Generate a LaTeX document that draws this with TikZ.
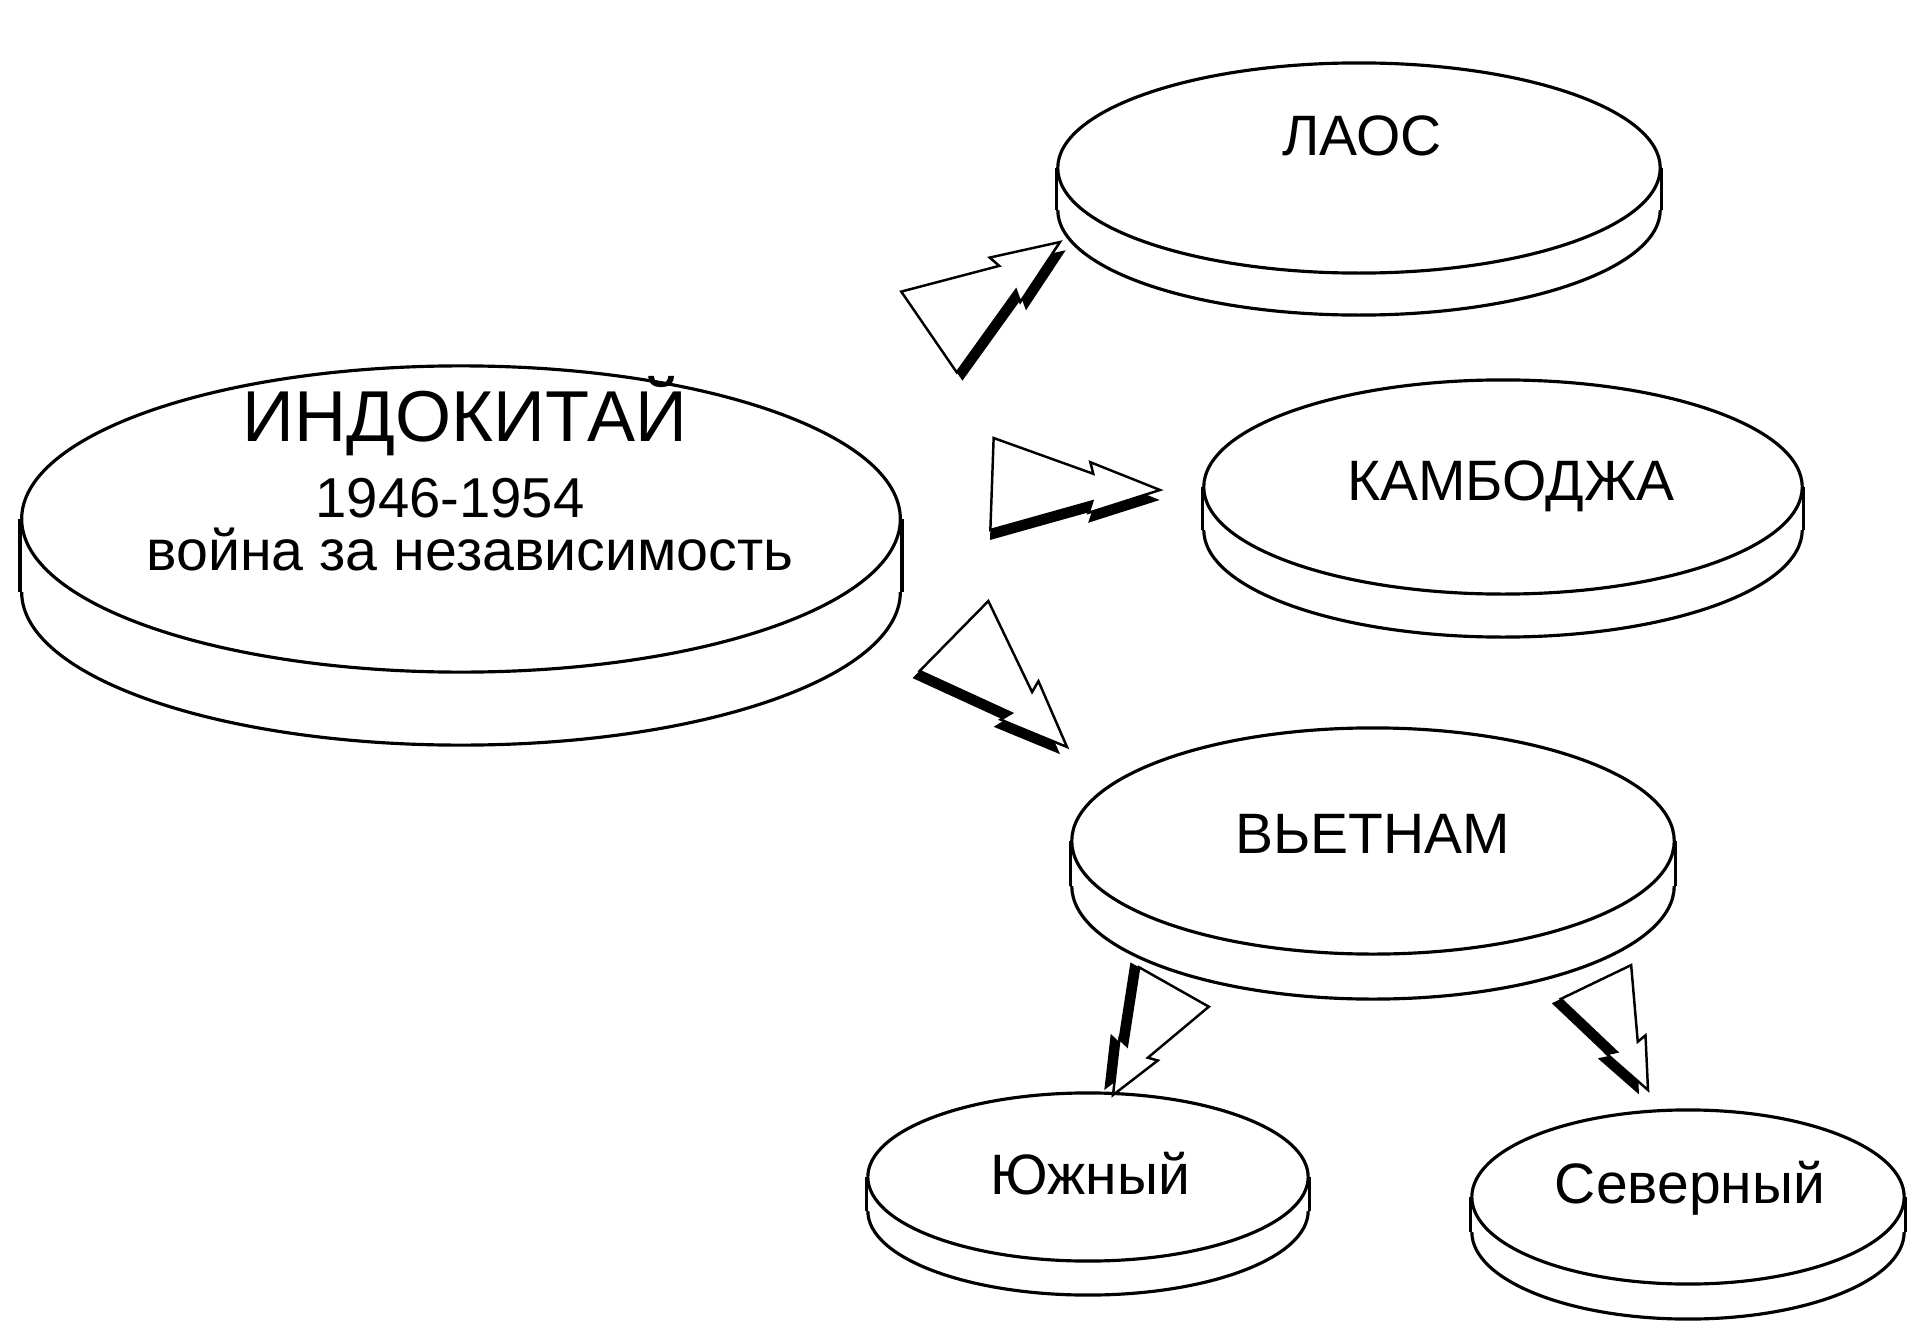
\documentclass[tikz,border=0pt]{standalone}
\usepackage{fontspec}
\setmainfont{Liberation Sans}
\usepackage{tikz}
\usetikzlibrary{calc, shapes.geometric}

\newcommand{\shd}{0.1cm}
% disk: name, x, y, rx, ry, depth
\newcommand{\disk}[6]{%
  \node[face, minimum width=#4*0.02cm, minimum height=#5*0.02cm] (#1-base) at (#2,#3+#6) {};
  \fill[white] (#2-#4,#3) rectangle (#2+#4,#3+#6);
  \node[face, minimum width=#4*0.02cm, minimum height=#5*0.02cm] (#1) at (#2,#3) {};
  \draw[rim] (#1.west) -- (#1-base.west) (#1.east) -- (#1-base.east);
}
% hollow arrow with shadow: tail, tip, half width
\newcommand{\blockarrow}[3]{%
  \coordinate (n) at ($(#1)!0.6!(#2)$);
  \coordinate (b) at ($(#1)!0.58!(#2)$);
  \fill[black]
    ($(#1)!#3-\shd!90:(#2)$) -- ($(n)!0.3*#3-\shd!90:(#2)$) -- ($(b)!0.55*#3-\shd!90:(#2)$)
    -- ($(#2)!\shd!90:(#1)$) -- ($(b)!0.55*#3+\shd!-90:(#2)$) -- ($(n)!0.3*#3+\shd!-90:(#2)$)
    -- ($(#1)!#3+\shd!-90:(#2)$) -- cycle;
  \draw[outline]
    ($(#1)!#3!90:(#2)$) -- ($(n)!0.3*#3!90:(#2)$) -- ($(b)!0.55*#3!90:(#2)$)
    -- (#2) -- ($(b)!0.55*#3!-90:(#2)$) -- ($(n)!0.3*#3!-90:(#2)$)
    -- ($(#1)!#3!-90:(#2)$) -- cycle;
}

\begin{document}
\begin{tikzpicture}[x=0.01cm, y=-0.01cm,
    face/.style={draw, fill=white, ellipse, inner sep=0pt, line width=0.9pt},
    rim/.style={line width=0.9pt},
    outline/.style={fill=white, line width=0.7pt, line join=miter},
    big/.style={font=\fontsize{20.5}{24}\selectfont, anchor=base},
    mid/.style={font=\fontsize{16}{19}\selectfont, anchor=base},
    lbl/.style={font=\fontsize{16.2}{19}\selectfont, anchor=base}]
  \useasboundingbox[fill=white] (0,0) rectangle (1911,1324);

  % disks
  \disk{indo}{461}{519}{439}{153}{73}
  \disk{laos}{1359}{168}{301}{105}{42}
  \disk{camb}{1503}{487}{299}{107}{43}
  \disk{viet}{1373}{841}{301}{113}{45}
  \disk{south}{1088}{1177}{220}{84}{34}
  \disk{north}{1688}{1197}{216}{87}{35}

  \node[big] (title) at (465,441) {ИНДОКИТАЙ};
  \node[mid] (years) at (450,517) {1946-1954};
  \node[mid, font=\fontsize{16.3}{19}\selectfont] (war) at (470,570) {война за независимость};
  \node[lbl] (laostxt) at (1362,156) {ЛАОС};
  \node[lbl] (cambtxt) at (1511,500) {КАМБОДЖА};
  \node[lbl] (viettxt) at (1373,853) {ВЬЕТНАМ};
  \node[lbl] (southtxt) at (1090,1194) {Южный};
  \node[lbl] (northtxt) at (1690,1203) {Северный};

  % arrows
  \coordinate (t1) at (929,332);  \coordinate (h1) at (1060,242);
  \coordinate (t2) at (992,484);  \coordinate (h2) at (1160,490);
  \coordinate (t3) at (954,636);  \coordinate (h3) at (1067,747);
  \coordinate (t4) at (1174,987); \coordinate (h4) at (1113,1095);
  \coordinate (t5) at (1596,982); \coordinate (h5) at (1648,1090);
  \blockarrow{t1}{h1}{0.49cm}
  \blockarrow{t2}{h2}{0.46cm}
  \blockarrow{t3}{h3}{0.49cm}
  \blockarrow{t4}{h4}{0.40cm}
  \blockarrow{t5}{h5}{0.39cm}
\end{tikzpicture}
\end{document}
